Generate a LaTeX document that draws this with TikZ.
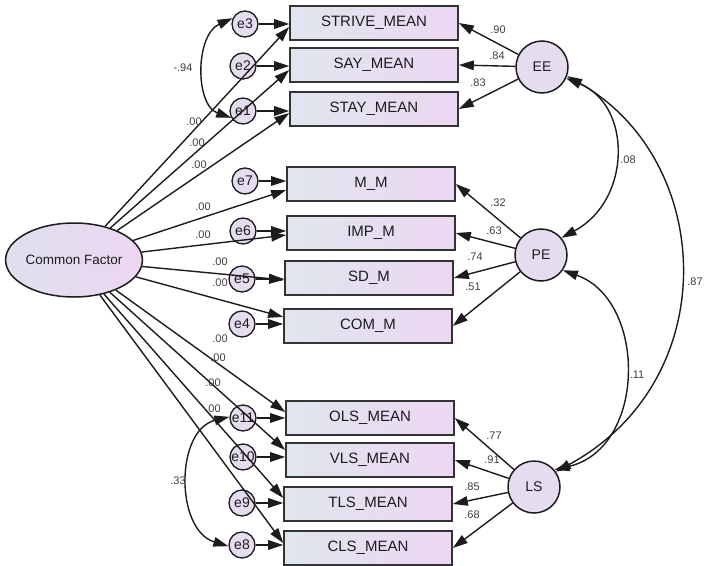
\documentclass[tikz,border=0pt]{standalone}
\usepackage{fontspec}
\setmainfont{Liberation Sans}
\usetikzlibrary{arrows.meta,shapes.geometric}
\definecolor{boxL}{HTML}{DFE6EE}
\definecolor{boxR}{HTML}{EDD7F2}
\definecolor{latL}{HTML}{DEE0EE}
\definecolor{latR}{HTML}{EDD6F1}
\definecolor{errfill}{HTML}{E6DCF0}
\definecolor{ink}{HTML}{1C1C1C}
\tikzset{
  obs/.style={draw=ink!90, line width=1.6pt, left color=boxL, right color=boxR,
    minimum width=168pt, minimum height=34pt, inner sep=0pt,
    font=\fontsize{15}{15}\selectfont, text=ink},
  err/.style={circle, draw=ink, line width=1.3pt, fill=errfill, minimum size=26pt,
    inner sep=0pt, font=\fontsize{14}{14}\selectfont, text=ink},
  lat/.style={circle, draw=ink, line width=1.5pt, fill=errfill, minimum size=52pt,
    inner sep=0pt, font=\fontsize{14}{14}\selectfont, text=ink},
  reg/.style={-{Triangle[length=15pt,width=9.5pt]}, line width=1.4pt, draw=ink},
  cov/.style={{Triangle[length=15pt,width=9.5pt]}-{Triangle[length=15pt,width=9.5pt]},
    line width=1.4pt, draw=ink},
  coef/.style={font=\fontsize{11}{11}\selectfont, text=ink!85, inner sep=0pt},
}
\begin{document}
\begin{tikzpicture}[x=1pt,y=-1pt]
\useasboundingbox (0,0) rectangle (704,565);

% observed indicators
\node[obs] (strive) at (374,23)  {STRIVE\_MEAN};
\node[obs] (say)    at (374,65)  {SAY\_MEAN};
\node[obs] (stay)   at (374,109) {STAY\_MEAN};
\node[obs] (mm)     at (371,184) {M\_M};
\node[obs] (imp)    at (371,233) {IMP\_M};
\node[obs] (sd)     at (369,278) {SD\_M};
\node[obs] (com)    at (368,326) {COM\_M};
\node[obs] (ols)    at (370,418) {OLS\_MEAN};
\node[obs] (vls)    at (370,460) {VLS\_MEAN};
\node[obs] (tls)    at (368,504) {TLS\_MEAN};
\node[obs] (cls)    at (368,548) {CLS\_MEAN};

% error terms
\node[err] (e3)  at (245,24)  {e3};
\node[err] (e2)  at (243,66)  {e2};
\node[err] (e1)  at (243,111) {e1};
\node[err] (e7)  at (245,181) {e7};
\node[err] (e6)  at (243,231) {e6};
\node[err] (e5)  at (242,279) {e5};
\node[err] (e4)  at (242,324) {e4};
\node[err] (e11) at (243,418) {e11};
\node[err] (e10) at (243,457) {e10};
\node[err] (e9)  at (242,503) {e9};
\node[err] (e8)  at (242,545) {e8};

% latent factors
\node[lat] (ee) at (542,67)  {EE};
\node[lat] (pe) at (541,255) {PE};
\node[lat] (ls) at (534,487) {LS};
\node[ellipse, draw=ink, line width=1.5pt, left color=latL, right color=latR,
  minimum width=125pt, minimum height=74pt, inner sep=0pt,
  font=\fontsize{13.5}{13.5}\selectfont, text=ink] (cf) at (74,260) {Common Factor};

% error paths
\foreach \e/\b in {e3/strive,e2/say,e1/stay,e7/mm,e6/imp,e5/sd,e4/com,
                   e11/ols,e10/vls,e9/tls,e8/cls}
  \draw[reg] (\e) -- (\e -| \b.west);

% common factor loadings
\foreach \b/\d in {strive/-4,say/-5,stay/-4,mm/-6,imp/-2,sd/-2,com/9,
                   ols/6,vls/10,tls/6,cls/5}
  \draw[reg] (cf) -- ([yshift=\d pt]\b.west);

% factor loadings
\draw[reg] (ee) -- (strive.east);
\draw[reg] (ee) -- (say.east);
\draw[reg] (ee) -- (stay.east);
\draw[reg] (pe) -- (mm.east);
\draw[reg] (pe) -- (imp.east);
\draw[reg] (pe) -- (sd.east);
\draw[reg] (pe) -- (com.east);
\draw[reg] (ls) -- (ols.east);
\draw[reg] (ls) -- (vls.east);
\draw[reg] (ls) -- (tls.east);
\draw[reg] (ls) -- (cls.east);

% covariances
\draw[cov] (e3.155) .. controls (195,35) and (195,105) .. (e1.210);
\draw[cov] (e11.175) .. controls (175,430) and (175,530) .. (e8.185);
\draw[cov] (ee.-25) .. controls (632,105) and (632,200) .. (pe.40);
\draw[cov] (ee.-20) .. controls (715,160) and (725,380) .. (ls.35);
\draw[cov] (pe.-35) .. controls (647,300) and (647,448) .. (ls.40);

% coefficients
\node[coef] at (183,68)  {-.94};
\node[coef] at (178,481) {.33};
\node[coef] at (628,160) {.08};
\node[coef] at (695,282) {.87};
\node[coef] at (637,375) {.11};

\node[coef] at (498,30)  {.90};
\node[coef] at (497,56)  {.84};
\node[coef] at (478,83)  {.83};
\node[coef] at (498,203) {.32};
\node[coef] at (494,231) {.63};
\node[coef] at (475,257) {.74};
\node[coef] at (473,287) {.51};
\node[coef] at (494,436) {.77};
\node[coef] at (492,460) {.91};
\node[coef] at (472,487) {.85};
\node[coef] at (472,515) {.68};

\foreach \y/\x in {122/194,143/197,165/199,207/203,235/203,262/220,283/220,
                   339/220,358/218,383/213,409/213}
  \node[coef] at (\x,\y) {.00};
\end{tikzpicture}
\end{document}
